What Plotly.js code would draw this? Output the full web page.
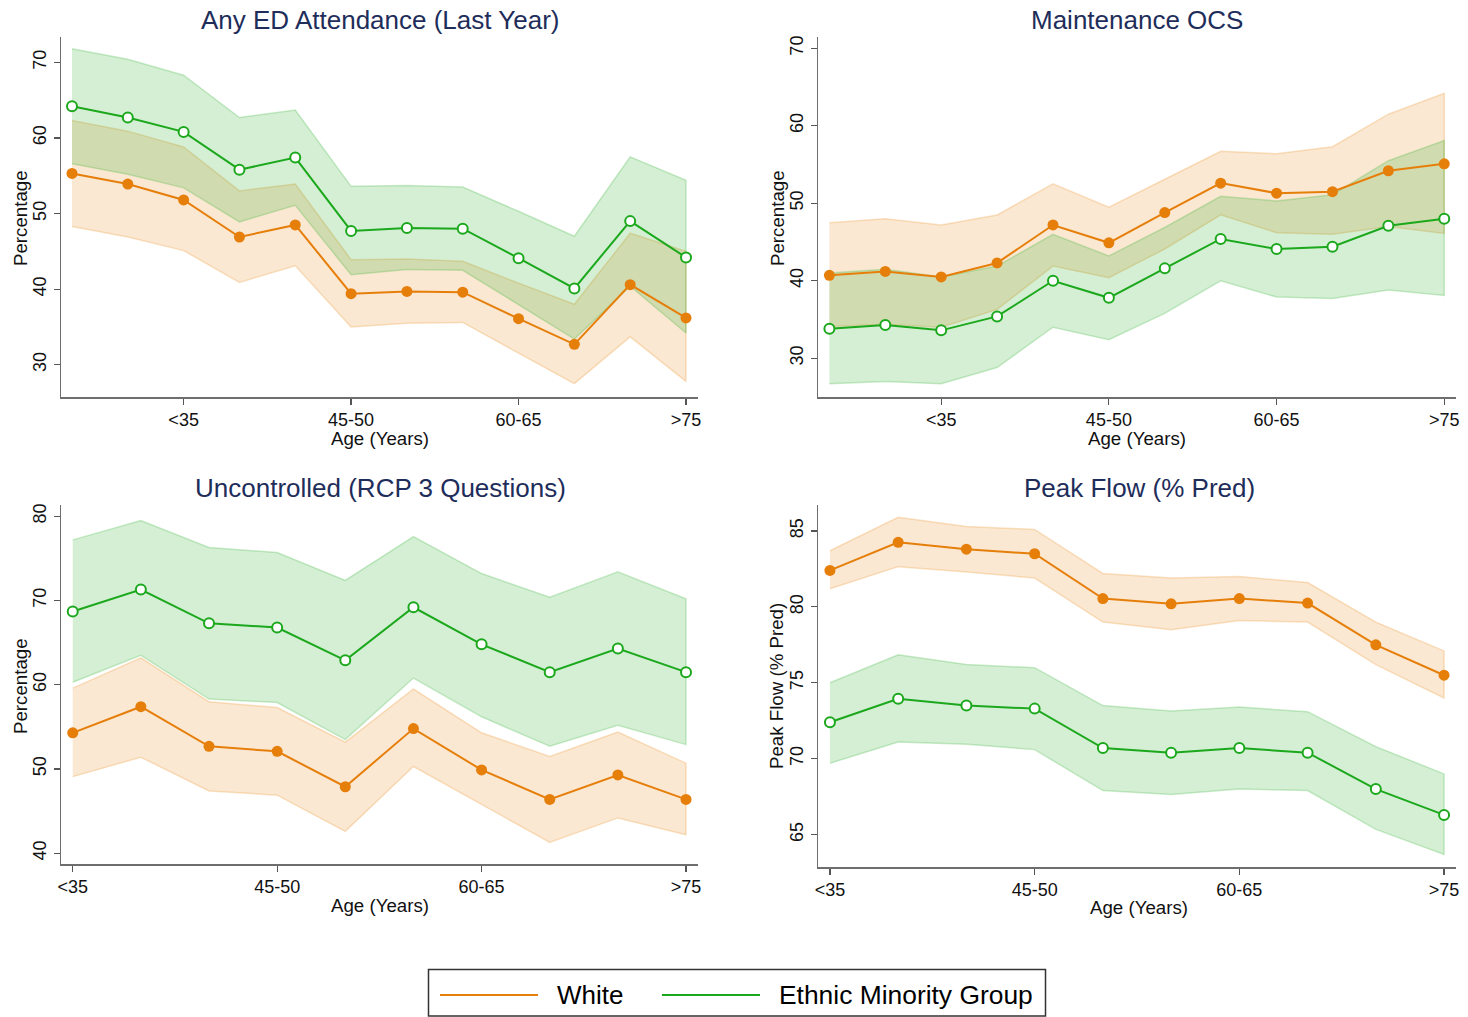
<!DOCTYPE html>
<html>
<head>
<meta charset="utf-8">
<script src="https://cdn.plot.ly/plotly-3.0.1.min.js"></script>
<style>
  html, body { margin: 0; padding: 0; background: #ffffff; }
  #chart { width: 1468px; height: 1017px; }
</style>
</head>
<body>
<div id="chart"></div>
<script>
// ---------------- DATA ----------------
// Top panels: 12 age groups, bottom panels: 10 age groups
const topAgeIdx = [0, 1, 2, 3, 4, 5, 6, 7, 8, 9, 10, 11];
const bottomAgeIdx = [0, 1, 2, 3, 4, 5, 6, 7, 8, 9];
const topTickVals = [2, 5, 8, 11];
const bottomTickVals = [0, 3, 6, 9];
const ageTickText = ["<35", "45-50", "60-65", ">75"];

const seriesNames = ["White", "Ethnic Minority Group"];
const panelTitles = ["Any ED Attendance (Last Year)", "Maintenance OCS", "Uncontrolled (RCP 3 Questions)", "Peak Flow (% Pred)"];
const yTitles = ["Percentage", "Percentage", "Percentage", "Peak Flow (% Pred)"];
const xTitle = "Age (Years)";

// Any ED Attendance (Last Year)
const edWhite     = [55.3, 53.9, 51.8, 46.9, 48.5, 39.4, 39.7, 39.6, 36.1, 32.7, 40.6, 36.2];
const edWhiteHi   = [62.3, 60.9, 58.8, 53.0, 53.9, 43.9, 44.0, 43.7, 40.8, 38.0, 47.4, 45.0];
const edWhiteLo   = [48.3, 46.9, 45.1, 40.9, 43.1, 35.0, 35.5, 35.6, 31.5, 27.5, 33.7, 27.8];
const edEthnic    = [64.2, 62.7, 60.8, 55.8, 57.4, 47.7, 48.1, 48.0, 44.1, 40.1, 49.0, 44.2];
const edEthnicHi  = [71.8, 70.4, 68.3, 62.7, 63.7, 53.6, 53.7, 53.5, 50.3, 47.0, 57.5, 54.4];
const edEthnicLo  = [56.6, 55.2, 53.4, 48.9, 51.1, 41.9, 42.6, 42.5, 38.0, 33.4, 40.4, 34.2];

// Maintenance OCS
const ocsWhite    = [40.7, 41.2, 40.5, 42.3, 47.2, 44.9, 48.8, 52.6, 51.3, 51.5, 54.2, 55.1];
const ocsWhiteHi  = [47.5, 48.0, 47.2, 48.5, 52.5, 49.5, 53.1, 56.7, 56.4, 57.3, 61.5, 64.2];
const ocsWhiteLo  = [34.1, 34.4, 34.0, 36.3, 41.9, 40.4, 44.1, 48.5, 46.2, 46.0, 47.0, 46.1];
const ocsEthnic   = [33.8, 34.3, 33.6, 35.4, 40.0, 37.8, 41.6, 45.4, 44.1, 44.4, 47.1, 48.0];
const ocsEthnicHi = [41.0, 41.5, 40.5, 41.9, 46.0, 43.2, 46.9, 50.9, 50.3, 51.1, 55.5, 58.1];
const ocsEthnicLo = [26.7, 27.0, 26.7, 28.8, 34.0, 32.4, 35.8, 40.0, 37.9, 37.7, 38.8, 38.1];

// Uncontrolled (RCP 3 Questions)
const rcpWhite    = [54.3, 57.4, 52.7, 52.1, 47.9, 54.8, 49.9, 46.4, 49.3, 46.4];
const rcpWhiteHi  = [59.6, 63.2, 58.0, 57.3, 53.2, 59.5, 54.3, 51.5, 54.4, 50.7];
const rcpWhiteLo  = [49.1, 51.4, 47.4, 46.9, 42.6, 50.3, 45.8, 41.3, 44.2, 42.2];
const rcpEthnic   = [68.7, 71.3, 67.3, 66.8, 62.9, 69.2, 64.8, 61.5, 64.3, 61.5];
const rcpEthnicHi = [77.2, 79.5, 76.3, 75.7, 72.4, 77.6, 73.2, 70.4, 73.4, 70.2];
const rcpEthnicLo = [60.3, 63.5, 58.3, 57.9, 53.5, 60.8, 56.2, 52.7, 55.2, 52.9];

// Peak Flow (% Pred)
const pefWhite    = [82.4, 84.25, 83.8, 83.5, 80.55, 80.2, 80.55, 80.25, 77.5, 75.5];
const pefWhiteHi  = [83.7, 85.9, 85.3, 85.1, 82.2, 81.9, 82.0, 81.6, 79.0, 77.1];
const pefWhiteLo  = [81.2, 82.65, 82.3, 81.9, 79.0, 78.5, 79.1, 79.0, 76.2, 74.0];
const pefEthnic   = [72.4, 73.95, 73.5, 73.3, 70.7, 70.4, 70.7, 70.4, 68.0, 66.3];
const pefEthnicHi = [75.0, 76.85, 76.2, 76.0, 73.5, 73.15, 73.4, 73.1, 70.8, 69.0];
const pefEthnicLo = [69.7, 71.1, 70.95, 70.6, 67.9, 67.65, 68.0, 67.9, 65.35, 63.7];

// ---------------- STYLE ----------------
const FONT = "'Liberation Sans', Arial, Helvetica, sans-serif";
const ORANGE = "#e67e0a";
const GREEN = "#1ca81c";
const ORANGE_FILL = "rgba(232,126,4,0.18)";
const GREEN_FILL = "rgba(28,168,28,0.19)";
const ORANGE_EDGE = "rgba(232,126,4,0.22)";
const GREEN_EDGE = "rgba(28,168,28,0.22)";
const TITLE_COLOR = "#1e2d5a";

const W = 1468, H = 1017;
const px = v => v / W;
const py = v => 1 - v / H;

function band(xs, hi, lo, fill, edge, xa, ya) {
  return {
    x: xs.concat(xs.slice().reverse()),
    y: hi.concat(lo.slice().reverse()),
    xaxis: xa, yaxis: ya,
    type: 'scatter', mode: 'lines', fill: 'toself',
    fillcolor: fill, line: { color: edge, width: 1.5 },
    hoverinfo: 'skip', showlegend: false
  };
}
function whiteLine(xs, ys, xa, ya) {
  return {
    x: xs, y: ys, xaxis: xa, yaxis: ya, name: seriesNames[0],
    type: 'scatter', mode: 'lines+markers',
    line: { color: ORANGE, width: 2 },
    marker: { color: ORANGE, size: 11, symbol: 'circle' },
    showlegend: false
  };
}
function ethnicLine(xs, ys, xa, ya) {
  return {
    x: xs, y: ys, xaxis: xa, yaxis: ya, name: seriesNames[1],
    type: 'scatter', mode: 'lines+markers',
    line: { color: GREEN, width: 2 },
    marker: { color: '#ffffff', size: 10, symbol: 'circle', line: { color: GREEN, width: 2 } },
    showlegend: false
  };
}
function panel(xs, w, wHi, wLo, e, eHi, eLo, xa, ya) {
  return [
    band(xs, wHi, wLo, ORANGE_FILL, ORANGE_EDGE, xa, ya),
    band(xs, eHi, eLo, GREEN_FILL, GREEN_EDGE, xa, ya),
    whiteLine(xs, w, xa, ya),
    ethnicLine(xs, e, xa, ya)
  ];
}

const data = [].concat(
  panel(topAgeIdx, edWhite, edWhiteHi, edWhiteLo, edEthnic, edEthnicHi, edEthnicLo, 'x', 'y'),
  panel(topAgeIdx, ocsWhite, ocsWhiteHi, ocsWhiteLo, ocsEthnic, ocsEthnicHi, ocsEthnicLo, 'x2', 'y2'),
  panel(bottomAgeIdx, rcpWhite, rcpWhiteHi, rcpWhiteLo, rcpEthnic, rcpEthnicHi, rcpEthnicLo, 'x3', 'y3'),
  panel(bottomAgeIdx, pefWhite, pefWhiteHi, pefWhiteLo, pefEthnic, pefEthnicHi, pefEthnicLo, 'x4', 'y4')
);

const axBase = {
  showgrid: false, zeroline: false, showline: true,
  linecolor: '#6e6e6e', linewidth: 1.5,
  ticks: 'outside', ticklen: 6, tickwidth: 1.2, tickcolor: '#555555',
  tickfont: { family: FONT, size: 18, color: '#111111' },
  fixedrange: true
};
function xax(domain, range, tickvals, anchor) {
  return Object.assign({}, axBase, {
    domain: domain, range: range, anchor: anchor,
    tickmode: 'array', tickvals: tickvals, ticktext: ageTickText,
    ticklabelstandoff: 0
  });
}
function yax(domain, range, tickvals, anchor) {
  return Object.assign({}, axBase, {
    domain: domain, range: range, anchor: anchor,
    tickmode: 'array', tickvals: tickvals, ticktext: tickvals.map(String),
    tickangle: -90, ticklabelstandoff: 0
  });
}

const leftX = [px(61), px(698)];
const rightX = [px(818), px(1456)];
const topY = [py(397), py(37)];
const botLY = [py(864), py(505)];
const botRY = [py(867), py(505)];

function ann(text, x, y, size, color, angle) {
  return {
    text: text, x: x, y: y, xref: 'paper', yref: 'paper',
    xanchor: 'center', yanchor: 'middle', showarrow: false,
    textangle: angle || 0,
    font: { family: FONT, size: size, color: color }
  };
}

const annotations = [
  ann(panelTitles[0], px(380), py(20), 26, TITLE_COLOR),
  ann(panelTitles[1], px(1137), py(20), 26, TITLE_COLOR),
  ann(panelTitles[2], px(380), py(488), 26, TITLE_COLOR),
  ann(panelTitles[3], px(1139), py(488), 26, TITLE_COLOR),
  ann(xTitle, px(380), py(438), 18.7, '#111111'),
  ann(xTitle, px(1137), py(438), 18.7, '#111111'),
  ann(xTitle, px(380), py(905), 18.7, '#111111'),
  ann(xTitle, px(1139), py(907), 18.7, '#111111'),
  ann(yTitles[0], px(20), py(218), 18.7, '#111111', -90),
  ann(yTitles[1], px(777), py(218), 18.7, '#111111', -90),
  ann(yTitles[2], px(20), py(686), 18.7, '#111111', -90),
  ann(yTitles[3], px(776), py(686), 18.7, '#111111', -90),
  // legend labels
  { text: seriesNames[0], x: px(555), y: py(995), xref: 'paper', yref: 'paper',
    xanchor: 'left', yanchor: 'middle', showarrow: false,
    font: { family: FONT, size: 26, color: '#000000' } },
  { text: seriesNames[1], x: px(777), y: py(995), xref: 'paper', yref: 'paper',
    xanchor: 'left', yanchor: 'middle', showarrow: false,
    font: { family: FONT, size: 26.4, color: '#000000' } }
];

const shapes = [
  { type: 'rect', xref: 'paper', yref: 'paper', x0: px(428.5), x1: px(1045.5), y0: py(1016), y1: py(969.5),
    line: { color: '#333333', width: 1.5 }, fillcolor: 'rgba(0,0,0,0)' },
  { type: 'line', xref: 'paper', yref: 'paper', x0: px(440), x1: px(538), y0: py(995), y1: py(995),
    line: { color: ORANGE, width: 2 } },
  { type: 'line', xref: 'paper', yref: 'paper', x0: px(662), x1: px(760), y0: py(995), y1: py(995),
    line: { color: GREEN, width: 2 } }
];

const layout = {
  width: W, height: H,
  margin: { l: 0, r: 0, t: 0, b: 0, pad: 0 },
  paper_bgcolor: '#ffffff', plot_bgcolor: '#ffffff',
  showlegend: false,
  font: { family: FONT, size: 18, color: '#111111' },
  xaxis:  xax(leftX,  [-0.197, 11.215], topTickVals, 'y'),
  yaxis:  yax(topY,   [25.74, 73.35], [30, 40, 50, 60, 70], 'x'),
  xaxis2: xax(rightX, [-0.204, 11.21], topTickVals, 'y2'),
  yaxis2: yax(topY,   [25.0, 71.46], [30, 40, 50, 60, 70], 'x2'),
  xaxis3: xax(leftX,  [-0.172, 9.176], bottomTickVals, 'y3'),
  yaxis3: yax(botLY,  [38.73, 81.34], [40, 50, 60, 70, 80], 'x3'),
  xaxis4: xax(rightX, [-0.175, 9.175], bottomTickVals, 'y4'),
  yaxis4: yax(botRY,  [62.87, 86.71], [65, 70, 75, 80, 85], 'x4'),
  annotations: annotations,
  shapes: shapes
};

Plotly.newPlot('chart', data, layout, { displayModeBar: false, staticPlot: true });
</script>
</body>
</html>
